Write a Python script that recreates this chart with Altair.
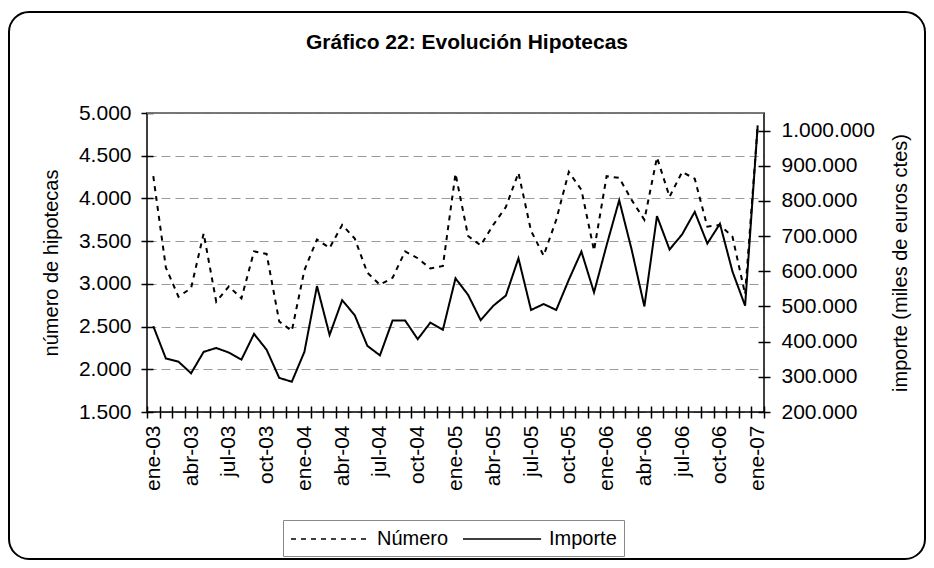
import json
import pandas as pd
import altair as alt

# ---------------- data ----------------
etiquetas = [
    "ene-03", "feb-03", "mar-03", "abr-03", "may-03", "jun-03", "jul-03", "ago-03", "sep-03", "oct-03", "nov-03", "dic-03",
    "ene-04", "feb-04", "mar-04", "abr-04", "may-04", "jun-04", "jul-04", "ago-04", "sep-04", "oct-04", "nov-04", "dic-04",
    "ene-05", "feb-05", "mar-05", "abr-05", "may-05", "jun-05", "jul-05", "ago-05", "sep-05", "oct-05", "nov-05", "dic-05",
    "ene-06", "feb-06", "mar-06", "abr-06", "may-06", "jun-06", "jul-06", "ago-06", "sep-06", "oct-06", "nov-06", "dic-06",
    "ene-07",
]

numero = [
    4260, 3190, 2850, 2950, 3590, 2790, 2970, 2830, 3380, 3350, 2560, 2450,
    3160, 3520, 3420, 3690, 3530, 3130, 2990, 3070, 3380, 3300, 3180, 3210,
    4290, 3560, 3450, 3690, 3900, 4300, 3620, 3330, 3750, 4310, 4100, 3390,
    4260, 4240, 3980, 3750, 4480, 4020, 4310, 4230, 3670, 3690, 3550, 2880,
    4850,
]

importe = [
    444000, 352000, 343000, 310000, 371000, 382000, 369000, 349000, 422000, 377000, 297000, 286000,
    371000, 558000, 419000, 518000, 475000, 388000, 361000, 460000, 460000, 407000, 454000, 434000,
    580000, 533000, 461000, 502000, 531000, 637000, 490000, 507000, 490000, 576000, 656000, 540000,
    674000, 802000, 660000, 500000, 757000, 662000, 705000, 769000, 679000, 735000, 599000, 502000,
    1015000,
]

series = ["Número", "Importe"]
left_ticks = [1500, 2000, 2500, 3000, 3500, 4000, 4500, 5000]
right_ticks = [200000, 300000, 400000, 500000, 600000, 700000, 800000, 900000, 1000000]

titulo_txt = "Gráfico 22: Evolución Hipotecas"

# ---------------- chart ----------------
FONT = "Liberation Sans"
W, H = 617, 299

df = pd.DataFrame({"idx": list(range(len(etiquetas))), "mes": etiquetas,
                   "numero": numero, "importe": importe})
one = pd.DataFrame({"t": [titulo_txt]})

labels_js = json.dumps(etiquetas, ensure_ascii=False)

x_enc = alt.X(
    "idx:O",
    bandPosition=0.5,
    scale=alt.Scale(type="band", paddingInner=0, paddingOuter=0),
    axis=alt.Axis(
        title=None, orient="bottom", tickBand="extent", offset=-6, tickSize=12,
        domain=False, grid=False, labelAngle=270, labelFontSize=21, labelFont=FONT,
        labelPadding=7, labelOverlap=False, labelColor="black", tickColor="black",
        tickWidth=1.5,
        labelExpr=f"datum.value % 3 == 0 ? {labels_js}[datum.value] : ''",
    ),
)

dash_scale = alt.Scale(domain=series, range=[[5, 5], [1, 0]])
legend = alt.Legend(
    title=None, orient="none", legendX=136, legendY=407, direction="horizontal",
    symbolType="M-1,0H6.1", symbolSize=484, symbolStrokeWidth=1.6,
    symbolStrokeColor="black", symbolFillColor="transparent",
    labelFontSize=20, labelFont=FONT, labelColor="black",
    labelOffset=63, columnPadding=10, padding=7, strokeColor="#888888",
    fillColor="white",
)

base = alt.Chart(df)

num = base.mark_line(color="black", strokeWidth=2).transform_calculate(
    serie="'Número'"
).encode(
    x=x_enc,
    y=alt.Y(
        "numero:Q",
        scale=alt.Scale(domain=[1500, 5000], nice=False, zero=False),
        axis=alt.Axis(
            orient="left", values=left_ticks, format=",d", offset=-6, tickSize=12,
            domain=False, grid=True, gridDash=[9, 5], gridColor="#9a9a9a", gridWidth=1,
            labelFontSize=21, labelFont=FONT, labelPadding=10, labelColor="black",
            tickColor="black", tickWidth=1.5,
            title="número de hipotecas", titleFontSize=20, titleFont=FONT,
            titleFontWeight="normal", titleColor="black", titleX=-102, titleY=149.5,
            titleAngle=270, titleAlign="center", titleBaseline="middle",
        ),
    ),
    strokeDash=alt.StrokeDash("serie:N", scale=dash_scale, legend=legend),
)

imp = base.mark_line(color="black", strokeWidth=2).transform_calculate(
    serie="'Importe'"
).encode(
    x=x_enc,
    y=alt.Y(
        "importe:Q",
        scale=alt.Scale(domain=[200000, 1050000], nice=False, zero=False),
        axis=alt.Axis(
            orient="right", values=right_ticks, format=",d", offset=-6, tickSize=12,
            domain=False, grid=False, labelFontSize=21, labelFont=FONT,
            labelPadding=11, labelColor="black", tickColor="black", tickWidth=1.5,
            title="importe (miles de euros ctes)", titleFontSize=20, titleFont=FONT,
            titleFontWeight="normal", titleColor="black", titleX=142, titleY=149.5,
            titleAngle=270, titleAlign="center", titleBaseline="middle",
        ),
    ),
    strokeDash=alt.StrokeDash("serie:N", scale=dash_scale, legend=legend),
)

frame = alt.Chart(one).mark_rect(filled=False, stroke="black", strokeWidth=2, cornerRadius=20).encode(
    x=alt.value(-138), x2=alt.value(778), y=alt.value(-101), y2=alt.value(446)
)

titulo = alt.Chart(one).mark_text(
    fontSize=21, fontWeight="bold", font=FONT, align="center", baseline="middle", color="black"
).encode(text="t:N", x=alt.value(320), y=alt.value(-70))

borde = alt.Chart(one).mark_rect(filled=False, stroke="black", strokeWidth=1.5).encode(
    x=alt.value(0), x2=alt.value(W), y=alt.value(0), y2=alt.value(H)
)

top_rule = alt.Chart(one).mark_rule(color="#8c8c8c", strokeWidth=1.5).encode(
    x=alt.value(0), x2=alt.value(W), y=alt.value(0)
)

chart = alt.layer(frame, titulo, num, imp, borde, top_rule).resolve_scale(
    y="independent"
).properties(
    width=W, height=H,
    padding={"left": 139, "top": 105, "right": 162, "bottom": 148},
    autosize=alt.AutoSizeParams(type="none"),
).configure(
    font=FONT,
    locale=alt.Locale(number=alt.NumberLocale(decimal=",", thousands=".", grouping=[3], currency=["", " €"])),
).configure_view(strokeWidth=0)

chart.save("out.html", embed_options={"renderer": "svg", "actions": False})
